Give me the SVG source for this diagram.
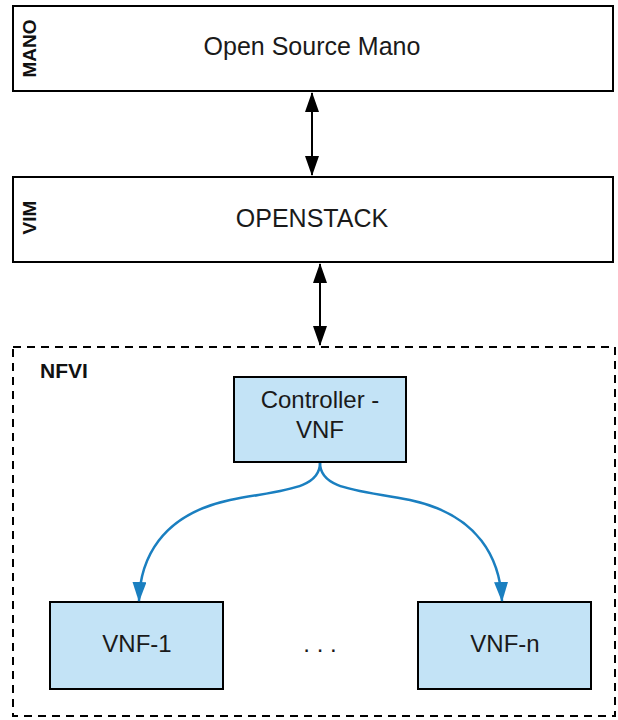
<svg xmlns="http://www.w3.org/2000/svg" width="618" height="720" viewBox="0 0 618 720">
<defs>
<style>
.box{fill:#ffffff;stroke:#000;stroke-width:2}
.vnf{fill:#c3e3f6;stroke:#000;stroke-width:2}
.t{font-family:"Liberation Sans",Arial,sans-serif;font-size:24px;fill:#1a1a1a;text-anchor:middle}
.lbl{font-family:"Liberation Sans",Arial,sans-serif;font-size:19px;font-weight:bold;fill:#111;text-anchor:middle}
.blk{stroke:#000;stroke-width:2;fill:none}
.blue{stroke:#1a7fc0;stroke-width:2.5;fill:none}
</style>
<marker id="ah" markerWidth="20" markerHeight="14" refX="19" refY="7" orient="auto-start-reverse" markerUnits="userSpaceOnUse" viewBox="0 0 20 14">
<path d="M0,0 L20,7 L0,14 Z" fill="#000"/>
</marker>
<marker id="ahb" markerWidth="20" markerHeight="14" refX="19" refY="7" orient="auto" markerUnits="userSpaceOnUse" viewBox="0 0 20 14">
<path d="M0,0 L20,7 L0,14 Z" fill="#1a7fc0"/>
</marker>
</defs>
<g id="mano">
<rect class="box" x="13" y="6" width="600" height="85"/>
<text class="t" x="312" y="55" style="font-size:25px">Open Source Mano</text>
<text class="lbl" transform="translate(36,48.5) rotate(-90)">MANO</text>
</g>
<g id="vim">
<rect class="box" x="13" y="177" width="600" height="85"/>
<text class="t" x="312" y="227" style="font-size:25px">OPENSTACK</text>
<text class="lbl" transform="translate(36,217.5) rotate(-90)">VIM</text>
</g>
<g id="nfvi">
<rect x="13" y="347" width="602" height="369" fill="none" stroke="#000" stroke-width="2" stroke-dasharray="8,6"/>
<text class="lbl" x="40" y="378" style="font-size:21px;text-anchor:start">NFVI</text>
</g>
<g id="controller">
<rect class="vnf" x="234" y="377" width="172" height="85"/>
<text class="t" x="320" y="408">Controller -</text>
<text class="t" x="320" y="438">VNF</text>
</g>
<g id="vnf1">
<rect class="vnf" x="50" y="602" width="173" height="87"/>
<text class="t" x="137" y="652">VNF-1</text>
</g>
<g id="dots">
<text class="t" x="320" y="652">. . .</text>
</g>
<g id="vnfn">
<rect class="vnf" x="418" y="602" width="173" height="87"/>
<text class="t" x="505" y="652">VNF-n</text>
</g>
<g id="connectors">
<path class="blk" d="M312,93 L312,175" marker-start="url(#ah)" marker-end="url(#ah)"/>
<path class="blk" d="M320,264 L320,345" marker-start="url(#ah)" marker-end="url(#ah)"/>
<path class="blue" d="M320,463 C320,490 280,490 230,500 C160,515 140,560 139,601" marker-end="url(#ahb)"/>
<path class="blue" d="M320,463 C320,490 360,490 410,500 C480,515 500,560 502,601" marker-end="url(#ahb)"/>
</g>
</svg>
